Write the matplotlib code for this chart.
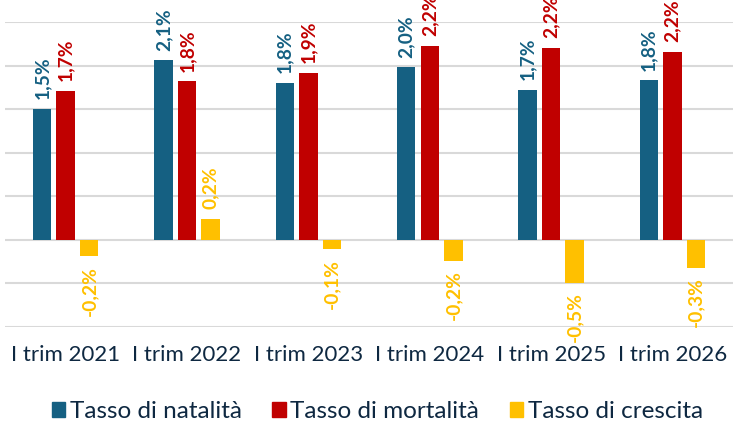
import numpy as np
import matplotlib.pyplot as plt
from matplotlib.patches import Patch

periods = ["I trim 2021", "I trim 2022", "I trim 2023", "I trim 2024", "I trim 2025", "I trim 2026"]
natalita = [1.50, 2.06, 1.80, 1.98, 1.72, 1.83]
mortalita = [1.71, 1.82, 1.92, 2.23, 2.20, 2.16]
crescita = [-0.19, 0.24, -0.11, -0.24, -0.49, -0.32]
series_names = ["Tasso di natalità", "Tasso di mortalità", "Tasso di crescita"]
colors = ["#156082", "#C00000", "#FFC000"]

plt.rcParams["font.family"] = ["Lato", "DejaVu Sans"]

fig = plt.figure(figsize=(7.37, 4.21), dpi=100)
ax = fig.add_axes([0.0068, 0.2233, 0.988, 0.7244])

x = np.arange(len(periods))
width = 0.152
pitch = 0.194

for i, (vals, col) in enumerate(zip([natalita, mortalita, crescita], colors)):
    pos = x + (i - 1) * pitch
    ax.bar(pos, vals, width=width, color=col, zorder=3)
    for p, v in zip(pos, vals):
        label = f"{v:.1f}%".replace(".", ",")
        ax.annotate(label, (p, v), xytext=(0, 7 if v >= 0 else -7),
                    textcoords="offset points", rotation=90,
                    ha="center", va="bottom" if v >= 0 else "top",
                    color=col, fontsize=13.8, fontweight="bold",
                    annotation_clip=False, zorder=4)

ax.set_xlim(-0.5, len(periods) - 0.5)
ax.set_ylim(-1.0, 2.5)
ax.set_yticks(np.arange(-1.0, 2.51, 0.5))
ax.yaxis.grid(True, color="#D9D9D9", linewidth=1.5, zorder=0)
ax.set_yticklabels([])
ax.tick_params(axis="y", length=0)
ax.set_xticks(x)
ax.set_xticklabels(periods, fontsize=16, color="#0E2841")
ax.tick_params(axis="x", length=0, pad=13)
for s in ax.spines.values():
    s.set_visible(False)

handles = [Patch(color=c) for c in colors]
fig.legend(handles, series_names, loc="center", bbox_to_anchor=(0.512, 0.022),
           ncol=3, frameon=False, fontsize=17.5, labelcolor="#0E2841",
           handlelength=0.55, handleheight=0.55, handletextpad=0.2, columnspacing=1.25)

fig.savefig("out.png", dpi=100)
